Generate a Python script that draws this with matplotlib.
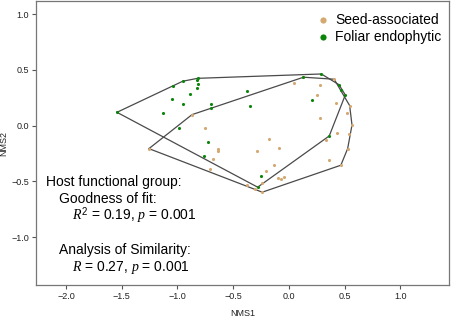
import numpy as np
import matplotlib
matplotlib.use("Agg")
import matplotlib.pyplot as plt

plt.rcParams['font.family'] = ['Liberation Sans', 'DejaVu Sans']
plt.rcParams['mathtext.fontset'] = 'custom'
plt.rcParams['mathtext.rm'] = 'Liberation Sans'
plt.rcParams['mathtext.it'] = 'Liberation Serif:italic'

# NMS scores
foliar_x = [-1.543, -1.038, -0.953, -0.819, -0.822, -0.812, -0.825, -0.888, -1.049,
            -0.948, -1.133, -0.698, -0.700, -0.987, -0.728, -0.760, -0.378, -0.348,
            0.204, 0.130, 0.290, 0.448, 0.466, 0.505, 0.361, -0.251, -0.281]
foliar_y = [0.120, 0.354, 0.399, 0.425, 0.406, 0.377, 0.336, 0.285, 0.240,
            0.199, 0.114, 0.193, 0.163, -0.023, -0.145, -0.268, 0.310, 0.179,
            0.233, 0.435, 0.464, 0.368, 0.320, 0.276, -0.092, -0.456, -0.552]

seed_x = [-1.256, -0.870, -0.756, -0.637, -0.639, -0.684, -0.706, -0.177, -0.290,
          -0.092, -0.132, -0.204, -0.100, -0.072, -0.043, -0.375, -0.242, -0.303,
          -0.240, 0.049, 0.274, 0.405, 0.253, 0.422, 0.544, 0.516, 0.274, 0.565,
          0.429, 0.538, 0.332, 0.526, 0.361, 0.465, 0.130]
seed_y = [-0.206, 0.099, -0.019, -0.205, -0.223, -0.297, -0.393, -0.119, -0.223,
          -0.202, -0.355, -0.405, -0.469, -0.480, -0.462, -0.534, -0.519, -0.571,
          -0.597, 0.381, 0.365, 0.417, 0.276, 0.206, 0.180, 0.111, 0.066, 0.006,
          -0.066, -0.072, -0.130, -0.206, -0.308, -0.355, 0.435]

seed_col = '#d4a871'
foliar_col = '#0a850a'
hull_col = '#4a4a4a'


def hull(xs, ys):
    # monotone chain convex hull
    pts = sorted(zip(xs, ys))
    def cross(o, a, b):
        return (a[0]-o[0])*(b[1]-o[1]) - (a[1]-o[1])*(b[0]-o[0])
    lower, upper = [], []
    for p in pts:
        while len(lower) >= 2 and cross(lower[-2], lower[-1], p) <= 0:
            lower.pop()
        lower.append(p)
    for p in reversed(pts):
        while len(upper) >= 2 and cross(upper[-2], upper[-1], p) <= 0:
            upper.pop()
        upper.append(p)
    h = lower[:-1] + upper[:-1]
    h.append(h[0])
    return np.array(h)


fig = plt.figure(figsize=(4.54, 3.22), dpi=100)
ax = fig.add_axes([36/454, 1-285/322, 413/454, 284/322])

for xs, ys in [(seed_x, seed_y), (foliar_x, foliar_y)]:
    h = hull(xs, ys)
    ax.plot(h[:, 0], h[:, 1], color=hull_col, lw=0.9, zorder=2)

ax.scatter(seed_x, seed_y, s=5, color=seed_col, lw=0, zorder=3, label='Seed-associated')
ax.scatter(foliar_x, foliar_y, s=5, color=foliar_col, lw=0, zorder=4, label='Foliar endophytic')

ax.set_xlim(-2.269, 1.435)
ax.set_ylim(-1.430, 1.119)
ax.set_xticks([-2.0, -1.5, -1.0, -0.5, 0.0, 0.5, 1.0])
ax.set_yticks([-1.0, -0.5, 0.0, 0.5, 1.0])
ax.tick_params(labelsize=6.5, length=3, width=0.8, colors='#555555', labelcolor='#222222', pad=2)
for s in ax.spines.values():
    s.set_color('#777777')
    s.set_linewidth(0.9)
ax.set_xlabel('NMS1', fontsize=6.5, color='#222222', labelpad=6)
ax.set_ylabel('NMS2', fontsize=6.5, color='#222222', labelpad=2)

leg = ax.legend(loc='upper right', bbox_to_anchor=(1.0, 0.985), frameon=False,
                markerscale=2.0, fontsize=10, handletextpad=0.3, labelspacing=0.2,
                borderaxespad=0.15, handlelength=1.2)

fs = 10
fig.text(46/454, 1-181.7/322, 'Host functional group:', fontsize=fs, va='center')
fig.text(59/454, 1-198.7/322, 'Goodness of fit:', fontsize=fs, va='center')
fig.text(72/454, 1-215.3/322, r'$R^2$ = 0.19, $p$ = 0.001', fontsize=fs, va='center')
fig.text(58.7/454, 1-250.3/322, 'Analysis of Similarity:', fontsize=fs, va='center')
fig.text(72/454, 1-267/322, r'$R$ = 0.27, $p$ = 0.001', fontsize=fs, va='center')

fig.savefig('out.png', dpi=100)
